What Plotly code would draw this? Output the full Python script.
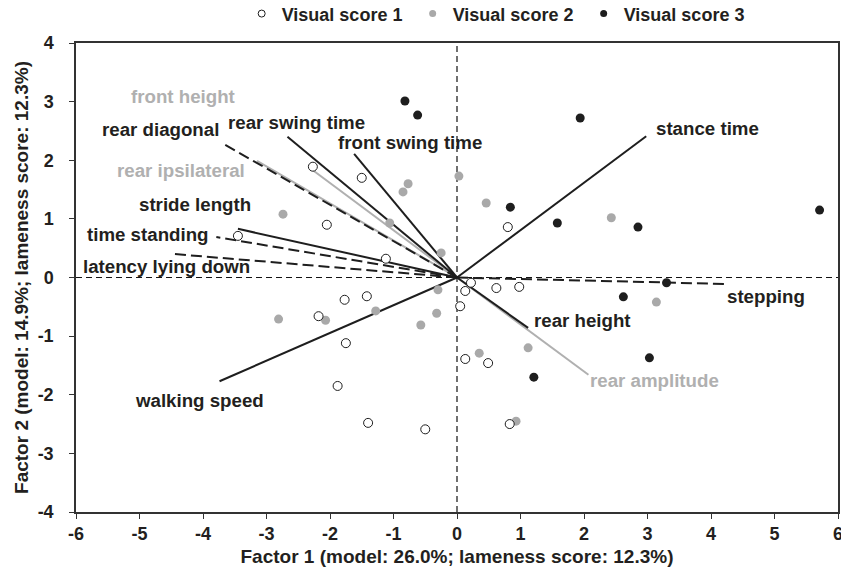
import plotly.graph_objects as go

# ---- data ----
score1_x = [-2.27, -1.50, -2.05, -3.45, -1.12, 0.80, 0.22, 0.13, 0.62, 0.98, 0.05,
            0.13, 0.49, 0.83, -1.77, -1.42, -2.18, -1.75, -1.88, -1.40, -0.50]
score1_y = [1.89, 1.70, 0.90, 0.71, 0.32, 0.86, -0.09, -0.23, -0.18, -0.16, -0.49,
            -1.39, -1.46, -2.50, -0.38, -0.32, -0.66, -1.12, -1.85, -2.48, -2.59]

score2_x = [-0.77, -0.85, -2.74, -1.06, -0.25, 0.03, 0.46, 2.43, 3.14, -0.30, -0.32,
            -0.57, -1.28, -2.07, -2.81, 0.35, 1.12, 0.93]
score2_y = [1.60, 1.46, 1.08, 0.93, 0.42, 1.73, 1.27, 1.02, -0.42, -0.21, -0.61,
            -0.81, -0.57, -0.73, -0.71, -1.29, -1.20, -2.45]

score3_x = [-0.82, -0.62, 1.94, 0.84, 1.58, 2.85, 5.71, 3.30, 2.62, 3.03, 1.21]
score3_y = [3.01, 2.77, 2.72, 1.20, 0.93, 0.86, 1.15, -0.09, -0.33, -1.37, -1.70]

variables = ["front height", "rear ipsilateral", "rear amplitude", "rear diagonal",
             "rear swing time", "front swing time", "stride length", "time standing",
             "latency lying down", "stance time", "stepping", "rear height", "walking speed"]
load_x = [-2.27, -3.15, 2.07, -3.71, -2.67, -1.62, -3.45, -3.79, -4.45, 2.98, 4.23, 1.12, -3.74]
load_y = [1.83, 1.99, -1.66, 2.30, 2.40, 2.11, 0.83, 0.69, 0.40, 2.41, -0.11, -0.86, -1.77]

x_ticks = [-6, -5, -4, -3, -2, -1, 0, 1, 2, 3, 4, 5, 6]
y_ticks = [-4, -3, -2, -1, 0, 1, 2, 3, 4]

# ---- styling ----
BLACK = "#1e1e1e"
GRAY = "#b0b0b0"
TEXT = "#231f20"
FONT = "Liberation Sans, Arial, sans-serif"
DASH = "11px,5px"
LABEL_SIZE = 18.7

vec_style = {
    "front height": (GRAY, "solid"),
    "rear ipsilateral": (GRAY, "solid"),
    "rear amplitude": (GRAY, "solid"),
    "rear diagonal": (BLACK, DASH),
    "rear swing time": (BLACK, "solid"),
    "front swing time": (BLACK, "solid"),
    "stride length": (BLACK, "solid"),
    "time standing": (BLACK, DASH),
    "latency lying down": (BLACK, DASH),
    "stance time": (BLACK, "solid"),
    "stepping": (BLACK, DASH),
    "rear height": (BLACK, "solid"),
    "walking speed": (BLACK, "solid"),
}
# label centre positions (data coordinates)
label_pos = {
    "front height": (-4.31, 3.08),
    "rear diagonal": (-4.67, 2.52),
    "rear swing time": (-2.52, 2.65),
    "front swing time": (-0.74, 2.31),
    "rear ipsilateral": (-4.35, 1.83),
    "stride length": (-4.13, 1.24),
    "time standing": (-4.87, 0.74),
    "latency lying down": (-4.57, 0.18),
    "stance time": (3.94, 2.55),
    "stepping": (4.86, -0.32),
    "rear height": (1.97, -0.74),
    "rear amplitude": (3.11, -1.75),
    "walking speed": (-4.05, -2.09),
}

fig = go.Figure()

# vectors: gray first so black dashed lines sit on top
order = [i for i, v in enumerate(variables) if vec_style[v][0] == GRAY] + \
        [i for i, v in enumerate(variables) if vec_style[v][0] != GRAY]
for i in order:
    v = variables[i]
    col, dash = vec_style[v]
    fig.add_trace(go.Scatter(x=[0, load_x[i]], y=[0, load_y[i]], mode="lines",
                             line=dict(color=col, width=2, dash=dash),
                             showlegend=False, hoverinfo="skip"))

# points
fig.add_trace(go.Scatter(x=score2_x, y=score2_y, mode="markers", showlegend=False,
                         cliponaxis=False,
                         marker=dict(size=9, color="#a9a9a9", line=dict(width=0))))
fig.add_trace(go.Scatter(x=score3_x, y=score3_y, mode="markers", showlegend=False,
                         cliponaxis=False,
                         marker=dict(size=9, color=BLACK, line=dict(width=0))))
fig.add_trace(go.Scatter(x=score1_x, y=score1_y, mode="markers", showlegend=False,
                         cliponaxis=False,
                         marker=dict(size=9, color="white", line=dict(width=1, color=BLACK))))

# legend entries
fig.add_trace(go.Scatter(x=[None], y=[None], mode="markers", name="Visual score 1",
                         marker=dict(size=7, color="white", line=dict(width=1, color=BLACK))))
fig.add_trace(go.Scatter(x=[None], y=[None], mode="markers", name="Visual score 2",
                         marker=dict(size=7, color="#a9a9a9", line=dict(width=0))))
fig.add_trace(go.Scatter(x=[None], y=[None], mode="markers", name="Visual score 3",
                         marker=dict(size=7, color=BLACK, line=dict(width=0))))

for v in variables:
    col = vec_style[v][0]
    lx, ly = label_pos[v]
    fig.add_annotation(x=lx, y=ly, xref="x", yref="y", text=v, showarrow=False,
                       font=dict(family=FONT, size=LABEL_SIZE,
                                 color=col if col == GRAY else TEXT, weight="bold"))

# dashed zero lines
fig.add_shape(type="line", xref="x", yref="paper", x0=0, x1=0, y0=0, y1=1,
              line=dict(color="#111111", width=1.2, dash="6px,4px"), layer="below")
fig.add_shape(type="line", xref="paper", yref="y", x0=0, x1=1, y0=0, y1=0,
              line=dict(color="#111111", width=1.2, dash="6px,4px"), layer="below")

axis_common = dict(showgrid=False, zeroline=False, showline=True, linecolor="#333333",
                   linewidth=1.5, mirror=True, ticks="outside", ticklen=5, tickwidth=1,
                   tickcolor="#333333", automargin=False, ticklabeloverflow="allow",
                   tickfont=dict(family=FONT, size=18, color=TEXT, weight="bold"))

fig.update_layout(
    width=841, height=578,
    margin=dict(l=76, r=3, t=43, b=66),
    paper_bgcolor="white", plot_bgcolor="white",
    font=dict(family=FONT, color=TEXT),
    xaxis=dict(range=[-6, 6], tickvals=x_ticks, ticktext=[str(t) for t in x_ticks],
               title=dict(text="Factor 1 (model: 26.0%; lameness score: 12.3%)",
                          font=dict(family=FONT, size=19, color=TEXT, weight="bold"),
                          standoff=6),
               **axis_common),
    yaxis=dict(range=[-4, 4], tickvals=y_ticks, ticktext=[str(t) for t in y_ticks],
               ticklabelstandoff=12,
               title=dict(text="Factor 2 (model: 14.9%; lameness score: 12.3%)",
                          font=dict(family=FONT, size=19, color=TEXT, weight="bold"),
                          standoff=4),
               **axis_common),
    legend=dict(orientation="h", x=0.2174, xanchor="left", yref="container", y=0.976,
                yanchor="middle", entrywidth=126, entrywidthmode="pixels",
                font=dict(family=FONT, size=18, color=TEXT, weight="bold"),
                bgcolor="rgba(0,0,0,0)", itemclick=False),
    showlegend=True,
)

fig.write_html("out.html", config={"displayModeBar": False},
               post_script="document.body.style.margin='0px';")
